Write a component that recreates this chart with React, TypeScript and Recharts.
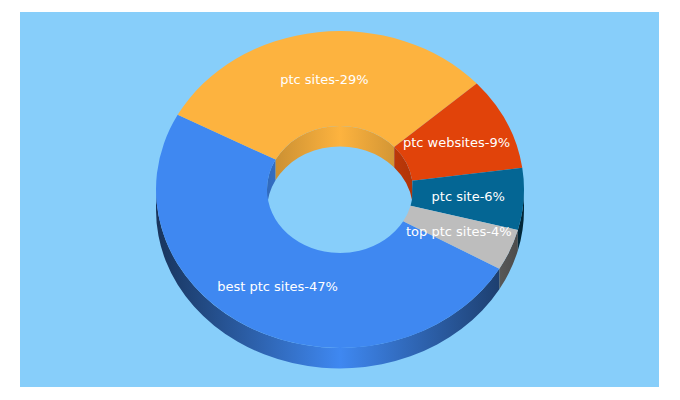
import { PieChart, Pie } from "recharts";

const keywords = ["best ptc sites", "ptc sites", "ptc websites", "ptc site", "top ptc sites"];
const shares = [47, 29, 9, 6, 4];
const colors = ["#3f88f1", "#fdb33f", "#e1430a", "#046694", "#bdbdbd"];

const data = keywords.map((name, i) => ({ name, value: shares[i], fill: colors[i] }));

const RAD = Math.PI / 180;
const OUTER_RATIO = 0.861;
const INNER_RATIO = 0.87;
const DEPTH = 20.5;

function shade(hex: string, f: number) {
  const n = parseInt(hex.slice(1), 16);
  const c = [(n >> 16) & 255, (n >> 8) & 255, n & 255].map((v) => Math.round(v * f));
  return `rgb(${c[0]},${c[1]},${c[2]})`;
}

function pt(cx: number, cy: number, r: number, ratio: number, a: number) {
  return `${cx + r * Math.cos(a * RAD)} ${cy - r * ratio * Math.sin(a * RAD)}`;
}

// the part of [end, start] that falls into the half of the ellipse starting at `from`
function visibleParts(start: number, end: number, from: number) {
  const parts: [number, number][] = [];
  for (let k = -3; k <= 2; k++) {
    const lo = Math.max(end, from + 360 * k);
    const hi = Math.min(start, from + 180 + 360 * k);
    if (hi > lo) parts.push([hi, lo]);
  }
  return parts;
}

function band(cx: number, cy: number, r: number, ratio: number, a: number, b: number) {
  const ry = r * ratio;
  const large = a - b > 180 ? 1 : 0;
  return (
    `M${pt(cx, cy, r, ratio, a)}A${r} ${ry} 0 ${large} 1 ${pt(cx, cy, r, ratio, b)}` +
    `L${pt(cx, cy + DEPTH, r, ratio, b)}A${r} ${ry} 0 ${large} 0 ${pt(cx, cy + DEPTH, r, ratio, a)}Z`
  );
}

function Walls(props: any) {
  const { cx, cy, innerRadius, outerRadius, startAngle, endAngle, fill, index } = props;
  const start = Math.max(startAngle, endAngle);
  const end = Math.min(startAngle, endAngle);
  const outerId = `outer-wall-${index}`;
  const innerId = `inner-wall-${index}`;
  return (
    <g>
      <defs>
        <linearGradient id={outerId} gradientUnits="userSpaceOnUse" x1={cx - outerRadius} x2={cx + outerRadius} y1={0} y2={0}>
          <stop offset="0" stopColor={shade(fill, 0.38)} />
          <stop offset="0.5" stopColor={fill} />
          <stop offset="1" stopColor={shade(fill, 0.38)} />
        </linearGradient>
        <linearGradient id={innerId} gradientUnits="userSpaceOnUse" x1={cx - innerRadius} x2={cx + innerRadius} y1={0} y2={0}>
          <stop offset="0" stopColor={shade(fill, 0.78)} />
          <stop offset="0.5" stopColor={fill} />
          <stop offset="1" stopColor={shade(fill, 0.78)} />
        </linearGradient>
      </defs>
      {visibleParts(start, end, -180).map(([a, b]) => (
        <path key={`o${a}`} d={band(cx, cy, outerRadius, OUTER_RATIO, a, b)} fill={`url(#${outerId})`} />
      ))}
      {visibleParts(start, end, 0).map(([a, b]) => (
        <path key={`i${a}`} d={band(cx, cy, innerRadius, INNER_RATIO, a, b)} fill={`url(#${innerId})`} />
      ))}
    </g>
  );
}

function TopFace(props: any) {
  const { cx, cy, innerRadius, outerRadius, startAngle, endAngle, fill } = props;
  const a = Math.max(startAngle, endAngle);
  const b = Math.min(startAngle, endAngle);
  const large = a - b > 180 ? 1 : 0;
  const d =
    `M${pt(cx, cy, outerRadius, OUTER_RATIO, a)}` +
    `A${outerRadius} ${outerRadius * OUTER_RATIO} 0 ${large} 1 ${pt(cx, cy, outerRadius, OUTER_RATIO, b)}` +
    `L${pt(cx, cy, innerRadius, INNER_RATIO, b)}` +
    `A${innerRadius} ${innerRadius * INNER_RATIO} 0 ${large} 0 ${pt(cx, cy, innerRadius, INNER_RATIO, a)}Z`;
  return <path d={d} fill={fill} />;
}

function SliceLabel(props: any) {
  const { cx, cy, innerRadius, outerRadius, midAngle, name, value } = props;
  const r = (innerRadius + outerRadius) / 2;
  const ratio = (OUTER_RATIO + INNER_RATIO) / 2;
  return (
    <text
      x={cx + r * Math.cos(midAngle * RAD)}
      y={cy - r * ratio * Math.sin(midAngle * RAD)}
      fill="#ffffff"
      fontFamily="DejaVu Sans"
      fontSize={13}
      textAnchor="middle"
      dominantBaseline="central"
    >
      {`${name}-${value}%`}
    </text>
  );
}

const pieProps = {
  data,
  dataKey: "value",
  nameKey: "name",
  cx: 320,
  cy: 177.5,
  innerRadius: 73,
  outerRadius: 184,
  startAngle: -30,
  endAngle: -390,
  stroke: "none",
  isAnimationActive: false,
};

export default function App() {
  return (
    <div style={{ position: "absolute", left: 0, top: 0, width: 680, height: 400, background: "#ffffff" }}>
      <div style={{ position: "absolute", left: 20, top: 12, width: 639, height: 375, background: "#87cefa" }}>
        <PieChart width={639} height={375} margin={{ top: 0, right: 0, bottom: 0, left: 0 }}>
          <Pie {...pieProps} shape={Walls} />
          <Pie {...pieProps} shape={TopFace} label={SliceLabel} labelLine={false} />
        </PieChart>
      </div>
    </div>
  );
}
